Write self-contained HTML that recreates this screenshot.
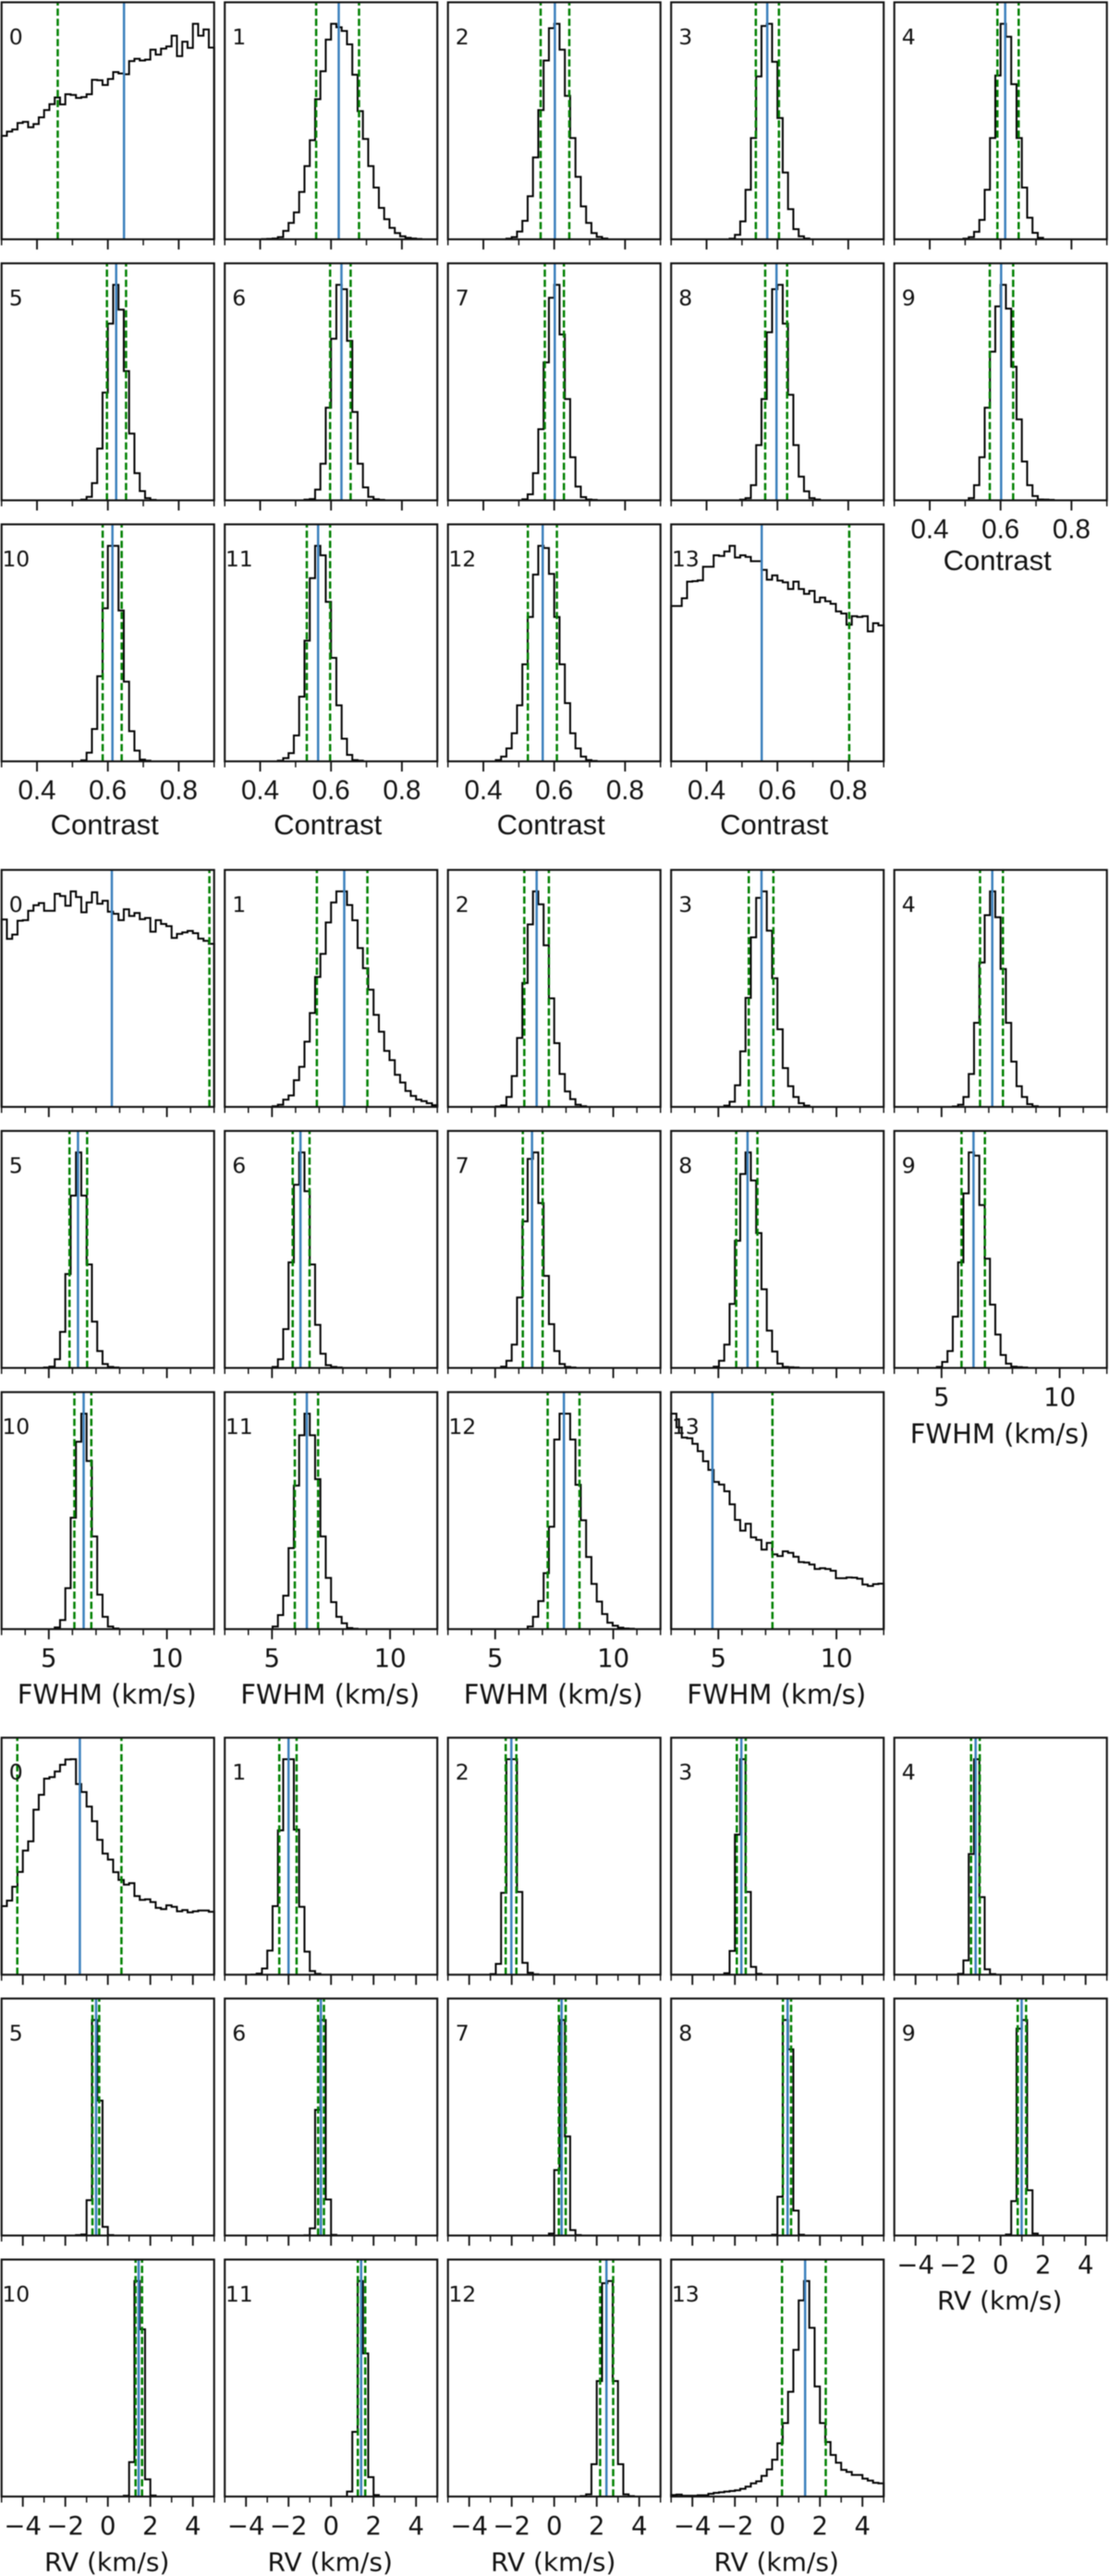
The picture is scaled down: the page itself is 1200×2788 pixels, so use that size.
<!DOCTYPE html>
<html lang="en">
<head>
<meta charset="utf-8">
<title>Posterior histograms of contrast, FWHM and RV</title>
<style>
html,body{margin:0;padding:0;background:#fff;}
svg{display:block;filter:blur(0.4px);}
text{font-family:"DejaVu Sans","Liberation Sans",sans-serif;fill:#111;}
</style>
</head>
<body>
<svg id="figure" xmlns="http://www.w3.org/2000/svg" width="1200" height="2788" viewBox="0 0 1200 2788"></svg>
<script>
const binCount = 40;

/* ---------- Contrast ---------- */
const contrastFirstBin = [0,7,11,11,13,15,15,14,13,14,15,10,9,0];
const contrastCounts = [
[48,50,51,54,54.5,52,53.5,56.6,60,62.7,65.8,62.6,67.3,67,65.6,66,67.3,74,73.8,71.6,74.4,77.6,77,76.6,82.7,83.8,83,83.4,88,85.7,88.5,89.5,94.5,85,91.7,88.8,100,94.5,97.4,89],
[.1,.2,.4,1,3.9,7.6,12.5,22,34,46,65,78,92.7,100,98.4,96.7,90.5,76.4,59.5,46.6,34,24,14.6,9.3,5.3,2.9,1.4,.7,.4,.15],
[.3,1,3.6,8.6,20,38,60,83,98,100,88,66.6,47,29,15.3,7.6,2.9,1.1,.4],
[.3,2.1,8.3,23,47,75.6,99,100,82.4,56.3,31,14,4.7,1.4,.4],
[.3,1,3.5,9,23,47,76,100,94,72,47,24,10,3,.7],
[.3,1.6,8,24,50,82,100,88.5,60,31,12.6,4.3,1,.2],
[.3,.6,5,17,43,75,100,98,74,41,17,6,1.6,.5,.2],
[.5,2.8,12.6,33,64,94,100,77,47,20,6.4,1.5,.4,.2],
[.3,1,7,25.6,47,78,98,100,82,49,25.6,11,4.2,1,.4],
[1,7,20,43,69,90,100,89,62,37.6,18,7,2,.4,.3,.2],
[.5,4,15,39.5,71,100,100,70,37,14,5,.8,.3],
[.3,1.5,3.8,12,30,56,85,100,95.6,74,48,26,10.5,3,.6,.3],
[.6,2.2,6,13,26,45,67,86.7,100,99,87,67,45,27,13,6,2.2,.6,.2],
[72.1,72.1,75.7,83.4,83.6,84,90.3,90.3,95.6,95.3,97.4,100,94.6,95.6,94.9,92.9,92.9,88.9,84.3,86.3,83.9,83.1,80,83.4,80,77.7,79.1,73.9,76,74.3,73.1,69.6,68.6,63.4,67.4,67,67.4,60.3,64.1,63.1]
];
const contrastMedian = [.6456,.6217,.6018,.5713,.613,.6235,.6294,.6015,.5974,.6015,.613,.5635,.5675,.5557];
const contrastLower = [.4585,.558,.5617,.5391,.591,.5974,.5974,.5734,.5655,.5695,.5854,.5316,.5256,.25];
const contrastUpper = [.95,.679,.6425,.6043,.651,.6514,.6553,.6274,.6274,.6355,.639,.5974,.6075,.8027];
const contrastMajorTicks = [.4,.6,.8];
const contrastMinorTicks = [.3,.5,.7,.9];
const contrastTickLabels = ["0.4","0.6","0.8"];

/* ---------- FWHM ---------- */
const fwhmFirstBin = [0,9,9,10,11,8,9,10,8,8,10,9,15,0];
const fwhmCounts = [
[87,78,80,86.4,86.7,91,93.6,94.6,91,91,98.9,97.9,93.4,100,97.4,90.3,94.9,99.6,94.3,95.7,90.6,89.6,86.7,91.7,88.6,90,87.1,87.7,81.3,86.7,84.9,83.9,78.4,80.3,81,81.7,80.6,78.1,77.1,75.7],
[.3,1,3.4,5.3,12.4,18.6,30.3,43.6,60.3,71,85.6,94.9,100,100,93.7,86.6,73.7,64.4,54.4,42.7,34.9,26,21.7,14.9,11.3,7.4,5.1,3.4,2.7,1.7,.8],
[.2,.7,4.6,14.3,32,57.5,84.7,100,94,75,50.4,29.6,15.3,7.2,3.6,1,.3],
[.6,2.4,10,25.8,50.6,78.7,97,100,81.8,59.7,36,18,9.6,4.6,1.7,.6],
[.2,1,4.6,15.3,39,67,89,100,88,64,39,21,9.6,4.6,1.3,.3],
[.2,.6,4,16.7,43.6,80,100,80,48,21.5,7.8,1.8,.5,.2],
[.5,4,18,49,85,100,82,48,20,6.6,1.3,.5,.2],
[.6,3.3,10.8,32.7,68,97,100,76.5,42.7,20.3,7.8,1.8,.5,.2],
[.6,3.3,10.8,29.7,59,90,100,87,62.6,36.5,17.3,7.6,2,.5,.3,.2],
[.5,2.8,7.8,23.8,49,81,100,98.5,75.6,50.7,29.4,15.5,6,2,.6,.4,.2],
[.8,4.2,19,51.7,87,100,78,43,16,5.7,1.2,.3],
[1.2,6.5,15.5,37.6,66.6,90,100,90,69.6,43,23.8,12.5,5.7,2.7,.5,.2],
[1.2,5.7,13,26,47.5,88,100,100,88,67,50.5,33.5,21,12.8,7,3,1.6,.7,.3,.2],
[100,93.6,88.9,88.6,86,82.6,77.9,73.9,68.3,67.1,64,57.9,50.7,45.7,48.9,42.6,41.4,36.9,40,34.7,33.9,36.1,35.4,33.6,31.1,30.9,30,27.9,28.3,27.9,27.1,23.6,23.6,24,23.9,23.4,20.7,20,20.9,21.1]
];
const fwhmMedian = [7.669,8.06,6.756,6.827,7.148,6.236,6.205,6.56,6.236,6.353,6.475,6.475,7.91,4.749];
const fwhmLower = [2.7,6.9,6.233,6.287,6.63,5.876,5.876,6.17,5.755,5.845,6.083,5.966,7.222,2.5];
const fwhmUpper = [11.8,9.04,7.273,7.33,7.6,6.623,6.59,7.01,6.654,6.835,6.8,6.952,8.57,7.29];
const fwhmMajorTicks = [5,10];
const fwhmMinorTicks = [3,4,6,7,8,9,11,12];
const fwhmTickLabels = ["5","10"];

/* ---------- RV ---------- */
const rvFirstBin = [0,5,8,10,12,14,15,19,19,21,23,23,25,0];
const rvCounts = [
[31.8,34.4,40.8,47.7,57.6,61.9,76.6,83.5,91,91.7,94.3,97.4,99.9,100,88.5,84.8,78,71.2,62.6,56.2,53.4,47.6,44,41.8,42.5,36.5,34.7,35,33.7,31,30.4,32.2,31.5,29.4,30,28.9,29.4,29.8,29.8,29.2],
[.1,.5,2.9,11.2,31.8,67,100,100,67.3,31.5,10.7,1.7,.4],
[.3,5,38,100,100,38.4,5.5,.9,.2],
[.7,11,65,100,38.4,3.6,.4],
[.4,6.6,56,100,36,2.5,.3],
[.2,.5,16.4,100,62.6,4,.2],
[.1,3.3,58.3,100,16.7,.3],
[.9,30.4,100,46,2.5,.2],
[.4,18,100,86.4,11.6,.4],
[.5,16,96,100,21,.9],
[.4,16,100,77.6,8,.5],
[2.3,30,100,66.4,9,.7],
[.2,1,15,53.6,99,100,53.6,15,1,.2],
[.7,.9,.4,.4,.4,.6,.6,1.3,1.7,2,2.3,2.6,2.9,3.6,4.6,6.1,7.1,9.6,12.6,17.1,24.7,34.1,48.6,68.1,91,100,78.3,51.1,34.1,25.3,19.3,15.7,12.4,11.4,10,10,8.3,7.4,6.4,6.1]
];
const rvMedian = [-1.317,-2,-2.017,-1.696,-1.174,-.552,-.478,.348,.478,.99,1.449,1.417,2.456,1.304];
const rvLower = [-4.26,-2.435,-2.283,-1.91,-1.39,-.725,-.609,.217,.26,.804,1.304,1.26,2.16,.217];
const rvUpper = [.639,-1.62,-1.78,-1.49,-.98,-.406,-.334,.54,.643,1.2,1.609,1.609,2.774,2.274];
const rvMajorTicks = [-4,-2,0,2,4];
const rvMinorTicks = [-5,-3,-1,1,3,5];
const rvTickLabels = ["\u22124","\u22122","0","2","4"];

/* ---------- layout ---------- */
const NS = "http://www.w3.org/2000/svg";
const svg = document.getElementById("figure");
const panelWidth = 230;
const panelHeight = 256.5;
const peakHeight = 233.2;
const colLeft = c => 1.7 + 241.5 * c;

function make(tag, parent) {
  const el = document.createElementNS(NS, tag);
  parent.appendChild(el);
  return el;
}

function drawGroup(cfg) {
  const root = make("g", svg);
  
  
  const scaleX = v => (v - cfg.xMin) / (cfg.xMax - cfg.xMin) * panelWidth;
  const scaleY = v => -v / 100 * peakHeight;
  const binStep = (cfg.xMax - cfg.xMin) / binCount;

  cfg.counts.forEach((counts, p) => {
    const col = p % 5;
    const row = Math.floor(p / 5);
    const left = colLeft(col);
    const top = cfg.rowTops[row];
    const bottom = top + panelHeight;

    const g = make("g", root);
    
    
    g.setAttribute("transform", "translate(" + left + " " + bottom + ")");

    /* histogram */
    const first = cfg.firstBin[p];
    let d = "M" + scaleX(cfg.xMin + first * binStep) + " 0";
    counts.forEach((c, i) => {
      d += "V" + scaleY(c).toFixed(2);
      d += "H" + scaleX(cfg.xMin + (first + i + 1) * binStep).toFixed(2);
    });
    d += "V0";
    const hist = make("path", g);
    
    
    hist.setAttribute("d", d);
    hist.setAttribute("fill", "none");
    hist.setAttribute("stroke", "#000");
    hist.setAttribute("stroke-width", "2");

    /* median */
    const med = make("line", g);
    
    
    med.setAttribute("x1", scaleX(cfg.median[p]));
    med.setAttribute("x2", scaleX(cfg.median[p]));
    med.setAttribute("y1", 0);
    med.setAttribute("y2", -panelHeight);
    med.setAttribute("stroke", "#3b80bd");
    med.setAttribute("stroke-width", "2.5");

    /* credible interval */
    [cfg.lower[p], cfg.upper[p]].forEach(v => {
      if (v < cfg.xMin || v > cfg.xMax) return;
      const ln = make("line", g);
      
      
      ln.setAttribute("x1", scaleX(v));
      ln.setAttribute("x2", scaleX(v));
      ln.setAttribute("y1", 0);
      ln.setAttribute("y2", -panelHeight);
      ln.setAttribute("stroke", "#008000");
      ln.setAttribute("stroke-width", "2.5");
      ln.setAttribute("stroke-dasharray", "7.7 3.3");
    });

    /* frame */
    const frame = make("rect", g);
    
    
    frame.setAttribute("x", 0);
    frame.setAttribute("y", -panelHeight);
    frame.setAttribute("width", panelWidth);
    frame.setAttribute("height", panelHeight);
    frame.setAttribute("fill", "none");
    frame.setAttribute("stroke", "#111");
    frame.setAttribute("stroke-width", "2.1");

    /* ticks */
    cfg.majorTicks.forEach(t => {
      const tk = make("line", g);
      
      
      tk.setAttribute("x1", scaleX(t));
      tk.setAttribute("x2", scaleX(t));
      tk.setAttribute("y1", 0);
      tk.setAttribute("y2", 11);
      tk.setAttribute("stroke", "#111");
      tk.setAttribute("stroke-width", "1.9");
    });
    cfg.minorTicks.forEach(t => {
      const tk = make("line", g);
      
      
      tk.setAttribute("x1", scaleX(t));
      tk.setAttribute("x2", scaleX(t));
      tk.setAttribute("y1", 0);
      tk.setAttribute("y2", 6.5);
      tk.setAttribute("stroke", "#111");
      tk.setAttribute("stroke-width", "1.5");
    });

    /* panel number */
    const num = make("text", g);
    
    
    num.setAttribute("x", 15.6);
    num.setAttribute("y", -panelHeight + 45.5);
    num.setAttribute("text-anchor", "middle");
    num.setAttribute("font-size", "23.5");
    num.textContent = String(p);

    /* bottom-most panels in each column carry labels */
    const labelled = row === 2 || (row === 1 && col === 4);
    if (labelled) {
      cfg.majorTicks.forEach((t, i) => {
        const lab = make("text", g);
        
        
        lab.setAttribute("x", scaleX(t));
        lab.setAttribute("y", 41);
        lab.setAttribute("text-anchor", "middle");
        lab.setAttribute("font-size", cfg.tickSize);
        lab.style.fontFamily = cfg.fontFamily;
        lab.textContent = cfg.tickLabels[i];
      });
      const xl = make("text", g);
      
      
      xl.setAttribute("x", panelWidth / 2 + cfg.titleDx);
      xl.setAttribute("y", row === 2 ? cfg.titleY[1] : cfg.titleY[0]);
      xl.setAttribute("text-anchor", "middle");
      xl.setAttribute("font-size", cfg.titleSize);
      xl.style.fontFamily = cfg.fontFamily;
      xl.textContent = cfg.title;
    }
  });
}

drawGroup({
  key: "contrast", title: "Contrast", xMin: .3, xMax: .9,
  rowTops: [2.5, 285, 567.5], titleDx: -3.5, titleY: [75.5, 79], titleSize: 31, tickSize: 29.5,
  fontFamily: '"Liberation Sans", sans-serif',
  counts: contrastCounts, firstBin: contrastFirstBin,
  median: contrastMedian, lower: contrastLower, upper: contrastUpper,
  majorTicks: contrastMajorTicks, minorTicks: contrastMinorTicks, tickLabels: contrastTickLabels
});
drawGroup({
  key: "fwhm", title: "FWHM (km/s)", xMin: 3, xMax: 12,
  rowTops: [941.5, 1224, 1506.7], titleDx: -1, titleY: [81.5, 81], titleSize: 29, tickSize: 27.5,
  fontFamily: '"DejaVu Sans", sans-serif',
  counts: fwhmCounts, firstBin: fwhmFirstBin,
  median: fwhmMedian, lower: fwhmLower, upper: fwhmUpper,
  majorTicks: fwhmMajorTicks, minorTicks: fwhmMinorTicks, tickLabels: fwhmTickLabels
});
drawGroup({
  key: "rv", title: "RV (km/s)", xMin: -5, xMax: 5,
  rowTops: [1880.7, 2163, 2445.5], titleDx: -1, titleY: [80, 80.3], titleSize: 28, tickSize: 27.5,
  fontFamily: '"DejaVu Sans", sans-serif',
  counts: rvCounts, firstBin: rvFirstBin,
  median: rvMedian, lower: rvLower, upper: rvUpper,
  majorTicks: rvMajorTicks, minorTicks: rvMinorTicks, tickLabels: rvTickLabels
});
</script>
</body>
</html>
